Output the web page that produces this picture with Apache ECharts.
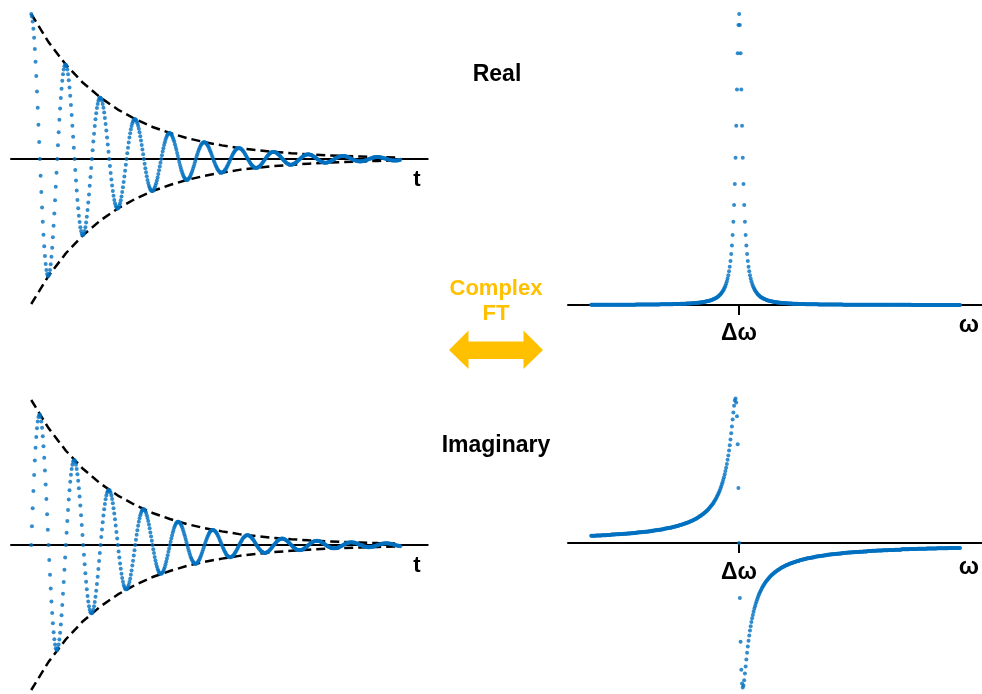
<!DOCTYPE html>
<html>
<head>
<meta charset="utf-8">
<script src="https://cdn.jsdelivr.net/npm/echarts@6/dist/echarts.min.js"></script>
<style>
html, body { margin: 0; padding: 0; background: #ffffff; }
#chart { width: 982px; height: 694px; }
</style>
</head>
<body>
<div id="chart"></div>
<script>
// Free-induction decay, 512 samples, one line per oscillation period (48 samples)
const REAL_FID = [
  100,98.3,94.9,89.9,83.6,75.9,67.0,57.2,46.5,35.3,23.7,11.8,0,-11.6,-22.8,-33.5,-43.3,-52.3,-60.2,-66.9,-72.4,-76.5,-79.3,-80.7,-80.6,-79.2,-76.5,-72.5,-67.4,-61.2,-54.0,-46.1,-37.5,-28.5,-19.1,-9.5,0,9.4,18.4,27.0,34.9,42.1,48.5,53.9,58.4,61.7,63.9,65.0,
  65.0,63.9,61.7,58.5,54.3,49.3,43.6,37.2,30.3,22.9,15.4,7.7,0,-7.6,-14.8,-21.7,-28.2,-34.0,-39.1,-43.5,-47.0,-49.7,-51.5,-52.4,-52.4,-51.5,-49.7,-47.1,-43.8,-39.8,-35.1,-30.0,-24.4,-18.5,-12.4,-6.2,0,6.1,12.0,17.5,22.7,27.4,31.5,35.1,37.9,40.1,41.5,42.3,
  42.3,41.5,40.1,38.0,35.3,32.0,28.3,24.2,19.7,14.9,10.0,5.0,0,-4.9,-9.6,-14.1,-18.3,-22.1,-25.4,-28.3,-30.6,-32.3,-33.5,-34.1,-34.1,-33.5,-32.3,-30.6,-28.5,-25.8,-22.8,-19.5,-15.9,-12.0,-8.1,-4.0,0,4.0,7.8,11.4,14.8,17.8,20.5,22.8,24.7,26.1,27.0,27.5,
  27.5,27.0,26.1,24.7,22.9,20.8,18.4,15.7,12.8,9.7,6.5,3.2,0,-3.2,-6.3,-9.2,-11.9,-14.4,-16.5,-18.4,-19.9,-21.0,-21.8,-22.1,-22.1,-21.8,-21.0,-19.9,-18.5,-16.8,-14.8,-12.7,-10.3,-7.8,-5.2,-2.6,0,2.6,5.1,7.4,9.6,11.6,13.3,14.8,16.0,16.9,17.6,17.9,
  17.9,17.5,16.9,16.1,14.9,13.5,12.0,10.2,8.3,6.3,4.2,2.1,0,-2.1,-4.1,-6.0,-7.7,-9.3,-10.7,-11.9,-12.9,-13.7,-14.2,-14.4,-14.4,-14.1,-13.7,-12.9,-12.0,-10.9,-9.6,-8.2,-6.7,-5.1,-3.4,-1.7,0,1.7,3.3,4.8,6.2,7.5,8.7,9.6,10.4,11.0,11.4,11.6,
  11.6,11.4,11.0,10.4,9.7,8.8,7.8,6.6,5.4,4.1,2.7,1.4,0,-1.3,-2.6,-3.9,-5.0,-6.1,-7.0,-7.8,-8.4,-8.9,-9.2,-9.4,-9.4,-9.2,-8.9,-8.4,-7.8,-7.1,-6.3,-5.3,-4.4,-3.3,-2.2,-1.1,0,1.1,2.1,3.1,4.1,4.9,5.6,6.3,6.8,7.2,7.4,7.5,
  7.5,7.4,7.2,6.8,6.3,5.7,5.1,4.3,3.5,2.7,1.8,0.9,0,-0.9,-1.7,-2.5,-3.3,-3.9,-4.5,-5.0,-5.5,-5.8,-6.0,-6.1,-6.1,-6.0,-5.8,-5.5,-5.1,-4.6,-4.1,-3.5,-2.8,-2.1,-1.4,-0.7,0,0.7,1.4,2.0,2.6,3.2,3.7,4.1,4.4,4.7,4.8,4.9,
  4.9,4.8,4.7,4.4,4.1,3.7,3.3,2.8,2.3,1.7,1.2,0.6,0,-0.6,-1.1,-1.6,-2.1,-2.6,-2.9,-3.3,-3.5,-3.8,-3.9,-4.0,-4.0,-3.9,-3.7,-3.6,-3.3,-3.0,-2.6,-2.3,-1.8,-1.4,-0.9,-0.5,0,0.5,0.9,1.3,1.7,2.1,2.4,2.6,2.9,3.0,3.1,3.2,
  3.2,3.1,3.0,2.9,2.7,2.4,2.1,1.8,1.5,1.1,0.8,0.4,0,-0.4,-0.7,-1.1,-1.4,-1.7,-1.9,-2.1,-2.3,-2.4,-2.5,-2.6,-2.6,-2.5,-2.4,-2.3,-2.1,-1.9,-1.7,-1.5,-1.2,-0.9,-0.6,-0.3,0,0.3,0.6,0.9,1.1,1.3,1.5,1.7,1.9,2.0,2.0,2.1,
  2.1,2.0,2.0,1.9,1.7,1.6,1.4,1.2,1.0,0.7,0.5,0.2,0,-0.2,-0.5,-0.7,-0.9,-1.1,-1.2,-1.4,-1.5,-1.6,-1.6,-1.7,-1.7,-1.6,-1.6,-1.5,-1.4,-1.3,-1.1,-1.0,-0.8,-0.6,-0.4,-0.2,0,0.2,0.4,0.6,0.7,0.9,1.0,1.1,1.2,1.3,1.3,1.3,
  1.3,1.3,1.3,1.2,1.1,1.0,0.9,0.8,0.6,0.5,0.3,0.2,0,-0.2,-0.3,-0.5,-0.6,-0.7,-0.8,-0.9,-1.0,-1.0,-1.1,-1.1,-1.1,-1.1,-1.0,-1.0,-0.9,-0.8,-0.7,-0.6
];

const IMAG_FID = [
  0,12.9,25.4,37.3,48.2,58.2,67.0,74.5,80.6,85.2,88.3,89.8,89.8,88.2,85.2,80.8,75.0,68.1,60.2,51.3,41.8,31.7,21.2,10.6,0,-10.4,-20.5,-30.0,-38.9,-46.9,-54.0,-60.1,-65.0,-68.7,-71.2,-72.4,-72.4,-71.1,-68.7,-65.1,-60.5,-54.9,-48.5,-41.4,-33.7,-25.6,-17.1,-8.6,
  0,8.4,16.5,24.2,31.4,37.8,43.6,48.4,52.4,55.4,57.4,58.4,58.4,57.3,55.4,52.5,48.8,44.3,39.1,33.4,27.2,20.6,13.8,6.9,0,-6.8,-13.3,-19.5,-25.3,-30.5,-35.1,-39.0,-42.2,-44.7,-46.3,-47.1,-47.1,-46.2,-44.6,-42.3,-39.3,-35.7,-31.5,-26.9,-21.9,-16.6,-11.1,-5.6,
  0,5.5,10.7,15.7,20.4,24.6,28.3,31.5,34.1,36.0,37.3,37.9,37.9,37.3,36.0,34.1,31.7,28.8,25.4,21.7,17.7,13.4,9.0,4.5,0,-4.4,-8.7,-12.7,-16.4,-19.8,-22.8,-25.4,-27.5,-29.0,-30.1,-30.6,-30.6,-30.1,-29.0,-27.5,-25.6,-23.2,-20.5,-17.5,-14.2,-10.8,-7.2,-3.6,
  0,3.6,7.0,10.2,13.2,16.0,18.4,20.5,22.1,23.4,24.2,24.7,24.7,24.2,23.4,22.2,20.6,18.7,16.5,14.1,11.5,8.7,5.8,2.9,0,-2.9,-5.6,-8.2,-10.7,-12.9,-14.8,-16.5,-17.8,-18.9,-19.6,-19.9,-19.9,-19.5,-18.9,-17.9,-16.6,-15.1,-13.3,-11.4,-9.3,-7.0,-4.7,-2.4,
  0,2.3,4.5,6.6,8.6,10.4,12.0,13.3,14.4,15.2,15.8,16.0,16.0,15.7,15.2,14.4,13.4,12.2,10.7,9.2,7.5,5.7,3.8,1.9,0,-1.9,-3.7,-5.4,-6.9,-8.4,-9.6,-10.7,-11.6,-12.3,-12.7,-12.9,-12.9,-12.7,-12.3,-11.6,-10.8,-9.8,-8.7,-7.4,-6.0,-4.6,-3.1,-1.5,
  0,1.5,2.9,4.3,5.6,6.8,7.8,8.6,9.4,9.9,10.2,10.4,10.4,10.2,9.9,9.4,8.7,7.9,7.0,6.0,4.8,3.7,2.5,1.2,0,-1.2,-2.4,-3.5,-4.5,-5.4,-6.3,-7.0,-7.5,-8.0,-8.3,-8.4,-8.4,-8.3,-8.0,-7.6,-7.0,-6.4,-5.6,-4.8,-3.9,-3.0,-2.0,-1.0,
  0,1.0,1.9,2.8,3.6,4.4,5.1,5.6,6.1,6.4,6.7,6.8,6.8,6.7,6.4,6.1,5.7,5.1,4.5,3.9,3.2,2.4,1.6,0.8,0,-0.8,-1.5,-2.3,-2.9,-3.5,-4.1,-4.5,-4.9,-5.2,-5.4,-5.5,-5.5,-5.4,-5.2,-4.9,-4.6,-4.1,-3.7,-3.1,-2.5,-1.9,-1.3,-0.6,
  0,0.6,1.2,1.8,2.4,2.9,3.3,3.7,4.0,4.2,4.3,4.4,4.4,4.3,4.2,4.0,3.7,3.3,2.9,2.5,2.0,1.6,1.0,0.5,0,-0.5,-1.0,-1.5,-1.9,-2.3,-2.6,-2.9,-3.2,-3.4,-3.5,-3.6,-3.5,-3.5,-3.4,-3.2,-3.0,-2.7,-2.4,-2.0,-1.7,-1.3,-0.8,-0.4,
  0,0.4,0.8,1.2,1.5,1.9,2.1,2.4,2.6,2.7,2.8,2.9,2.9,2.8,2.7,2.6,2.4,2.2,1.9,1.6,1.3,1.0,0.7,0.3,0,-0.3,-0.7,-1.0,-1.2,-1.5,-1.7,-1.9,-2.1,-2.2,-2.3,-2.3,-2.3,-2.3,-2.2,-2.1,-1.9,-1.7,-1.5,-1.3,-1.1,-0.8,-0.5,-0.3,
  0,0.3,0.5,0.8,1.0,1.2,1.4,1.5,1.7,1.8,1.8,1.9,1.9,1.8,1.8,1.7,1.6,1.4,1.2,1.1,0.9,0.7,0.4,0.2,0,-0.2,-0.4,-0.6,-0.8,-1.0,-1.1,-1.2,-1.3,-1.4,-1.5,-1.5,-1.5,-1.5,-1.4,-1.3,-1.3,-1.1,-1.0,-0.9,-0.7,-0.5,-0.4,-0.2,
  0,0.2,0.3,0.5,0.6,0.8,0.9,1.0,1.1,1.1,1.2,1.2,1.2,1.2,1.1,1.1,1.0,0.9,0.8,0.7,0.6,0.4,0.3,0.1,0,-0.1,-0.3,-0.4,-0.5,-0.6,-0.7,-0.8
];

// Decay envelope, sampled every 24 points of the FID
const ENVELOPE_INDEX = [0,24,48,72,96,120,144,168,192,216,240,264,288,312,336,360,384,408,432,456,480,504,511];
const ENVELOPE_UPPER = [100,80.6,65.0,52.4,42.3,34.1,27.5,22.1,17.9,14.4,11.6,9.4,7.5,6.1,4.9,4.0,3.2,2.6,2.1,1.7,1.3,1.1,1.0];
const ENVELOPE_LOWER = [-100,-80.6,-65.0,-52.4,-42.3,-34.1,-27.5,-22.1,-17.9,-14.4,-11.6,-9.4,-7.5,-6.1,-4.9,-4.0,-3.2,-2.6,-2.1,-1.7,-1.3,-1.1,-1.0];

// Spectrum, 512 points; the resonance sits at point 205
const RESONANCE_INDEX = 205;

const ABSORPTION = [
  0.06,0.06,0.06,0.06,0.06,0.06,0.06,
  0.07,0.07,0.07,0.07,0.07,0.07,0.07,0.07,0.07,0.07,0.07,0.07,0.07,0.07,
  0.08,0.08,0.08,0.08,0.08,0.08,0.08,0.08,0.08,0.08,0.08,
  0.09,0.09,0.09,0.09,0.09,0.09,0.09,0.09,0.09,
  0.1,0.1,0.1,0.1,0.1,0.1,0.1,0.1,
  0.11,0.11,0.11,0.11,0.11,0.11,0.11,
  0.12,0.12,0.12,0.12,0.12,0.12,
  0.13,0.13,0.13,0.13,0.13,0.13,
  0.14,0.14,0.14,0.14,0.14,
  0.15,0.15,0.15,0.15,
  0.16,0.16,0.16,0.16,
  0.17,0.17,0.17,0.17,
  0.18,0.18,0.18,
  0.19,0.19,0.19,
  0.2,0.2,0.2,
  0.21,0.21,
  0.22,0.22,0.22,
  0.23,0.23,
  0.24,0.24,
  0.25,0.25,
  0.26,0.26,0.27,0.27,0.28,0.28,0.29,0.3,0.3,0.31,
  0.32,0.32,0.33,0.34,0.35,0.35,0.36,0.37,0.38,0.39,
  0.4,0.41,0.42,0.43,0.44,0.45,0.47,0.48,0.49,0.51,
  0.52,0.54,0.55,0.57,0.59,0.6,0.62,0.64,0.66,0.68,
  0.71,0.73,0.76,0.78,0.81,0.84,0.87,0.9,0.94,0.98,
  1.02,1.06,1.1,1.15,1.2,1.25,1.31,1.37,1.43,1.5,
  1.58,1.66,1.75,1.84,1.94,2.05,2.17,2.3,2.44,2.6,
  2.77,2.96,3.17,3.4,3.65,3.94,4.26,4.62,5.03,5.5,
  6.02,6.63,7.33,8.15,9.1,10.23,11.57,13.17,15.11,17.49,
  20.41,24.04,28.6,34.35,41.6,50.63,61.58,74.02,86.51,96.25,
  100,
  96.25,86.51,74.02,61.58,50.63,41.6,34.35,28.6,24.04,20.41,
  17.49,15.11,13.17,11.57,10.23,9.1,8.15,7.33,6.63,6.02,
  5.5,5.03,4.62,4.26,3.94,3.65,3.4,3.17,2.96,2.77,
  2.6,2.44,2.3,2.17,2.05,1.94,1.84,1.75,1.66,1.58,
  1.5,1.43,1.37,1.31,1.25,1.2,1.15,1.1,1.06,1.02,
  0.98,0.94,0.9,0.87,0.84,0.81,0.78,0.76,0.73,0.71,
  0.68,0.66,0.64,0.62,0.6,0.59,0.57,0.55,0.54,0.52,
  0.51,0.49,0.48,0.47,0.45,0.44,0.43,0.42,0.41,0.4,
  0.39,0.38,0.37,0.36,0.35,0.35,0.34,0.33,0.32,0.32,
  0.31,0.3,0.3,0.29,0.28,0.28,0.27,0.27,0.26,0.26,
  0.25,0.25,
  0.24,0.24,
  0.23,0.23,
  0.22,0.22,0.22,
  0.21,0.21,
  0.2,0.2,0.2,
  0.19,0.19,0.19,
  0.18,0.18,0.18,
  0.17,0.17,0.17,0.17,
  0.16,0.16,0.16,0.16,
  0.15,0.15,0.15,0.15,
  0.14,0.14,0.14,0.14,0.14,
  0.13,0.13,0.13,0.13,0.13,0.13,
  0.12,0.12,0.12,0.12,0.12,0.12,
  0.11,0.11,0.11,0.11,0.11,0.11,0.11,
  0.1,0.1,0.1,0.1,0.1,0.1,0.1,0.1,
  0.09,0.09,0.09,0.09,0.09,0.09,0.09,0.09,0.09,
  0.08,0.08,0.08,0.08,0.08,0.08,0.08,0.08,0.08,0.08,0.08,
  0.07,0.07,0.07,0.07,0.07,0.07,0.07,0.07,0.07,0.07,0.07,0.07,0.07,0.07,
  0.06,0.06,0.06,0.06,0.06,0.06,0.06,0.06,0.06,0.06,0.06,0.06,0.06,0.06,0.06,0.06,0.06,
  0.05,0.05,0.05,0.05,0.05,0.05,0.05,0.05,0.05,0.05,0.05,0.05,0.05,0.05,0.05,0.05,0.05,0.05,0.05,0.05,0.05,0.05,0.05,
  0.04,0.04,0.04,0.04,0.04,0.04,0.04,0.04,0.04,0.04,0.04,0.04,0.04,0.04,0.04,0.04,
  0.04,0.04,0.04,0.04,0.04,0.04,0.04,0.04,0.04,0.04,0.04,0.04,0.04,0.04,0.04,0.04,
  0.03,0.03,0.03,0.03,0.03,0.03,0.03,0.03,0.03,0.03,0.03,0.03,0.03,0.03,0.03,0.03,0.03,0.03,
  0.03,0.03,0.03,0.03,0.03,0.03,0.03,0.03,0.03,0.03,0.03,0.03,0.03,0.03,0.03,0.03,0.03,0.03
];

const DISPERSION = [
  2.5,2.5,2.5,2.5,2.5,2.5,2.5,
  2.6,2.6,2.6,2.6,2.6,2.6,2.6,2.6,
  2.7,2.7,2.7,2.7,2.7,2.7,2.7,
  2.8,2.8,2.8,2.8,2.8,2.8,
  2.9,2.9,2.9,2.9,2.9,2.9,
  3.0,3.0,3.0,3.0,3.0,3.0,
  3.1,3.1,3.1,3.1,3.1,
  3.2,3.2,3.2,3.2,3.2,
  3.3,3.3,3.3,3.3,3.3,
  3.4,3.4,3.4,3.4,
  3.5,3.5,3.5,3.5,
  3.6,3.6,3.6,3.6,
  3.7,3.7,3.7,3.7,
  3.8,3.8,3.8,
  3.9,3.9,3.9,3.9,
  4.0,4.0,4.0,
  4.1,4.1,4.1,
  4.2,4.2,4.2,
  4.3,4.3,
  4.4,4.4,4.4,
  4.5,4.5,
  4.6,4.6,4.6,
  4.7,4.7,
  4.8,4.8,
  4.9,4.9,
  5.0,5.0,
  5.1,5.1,
  5.2,5.2,
  5.3,5.3,
  5.4,5.4,
  5.5,5.5,
  5.6,
  5.7,5.7,
  5.8,
  5.9,5.9,
  6.0,
  6.1,
  6.2,6.2,
  6.3,6.38,6.46,6.55,6.63,6.72,6.81,6.9,7,7.1,
  7.2,7.3,7.41,7.51,7.63,7.74,7.86,7.99,8.11,8.24,
  8.38,8.52,8.66,8.81,8.97,9.13,9.3,9.47,9.65,9.83,
  10.02,10.22,10.43,10.65,10.88,11.11,11.36,11.61,11.88,12.16,
  12.46,12.77,13.09,13.44,13.79,14.17,14.57,14.99,15.44,15.91,
  16.41,16.95,17.51,18.12,18.76,19.46,20.2,21,21.86,22.79,
  23.79,24.88,26.07,27.36,28.77,30.3,31.99,33.81,35.81,37.99,
  40.31,42.73,45.18,47.48,49.29,49.99,48.64,43.85,34.17,19.01,
  0,
  -19.01,-34.17,-43.85,-48.64,-49.99,-49.29,-47.48,-45.18,-42.73,-40.31,
  -37.99,-35.81,-33.81,-31.99,-30.3,-28.77,-27.36,-26.07,-24.88,-23.79,
  -22.79,-21.86,-21,-20.2,-19.46,-18.76,-18.12,-17.51,-16.95,-16.41,
  -15.91,-15.44,-14.99,-14.57,-14.17,-13.79,-13.44,-13.09,-12.77,-12.46,
  -12.16,-11.88,-11.61,-11.36,-11.11,-10.88,-10.65,-10.43,-10.22,-10.02,
  -9.83,-9.65,-9.47,-9.3,-9.13,-8.97,-8.81,-8.66,-8.52,-8.38,
  -8.24,-8.11,-7.99,-7.86,-7.74,-7.63,-7.51,-7.41,-7.3,-7.2,
  -7.1,-7,-6.9,-6.81,-6.72,-6.63,-6.55,-6.46,-6.38,-6.3,
  -6.2,-6.2,
  -6.1,
  -6.0,
  -5.9,-5.9,
  -5.8,
  -5.7,-5.7,
  -5.6,
  -5.5,-5.5,
  -5.4,-5.4,
  -5.3,-5.3,
  -5.2,-5.2,
  -5.1,-5.1,
  -5.0,-5.0,
  -4.9,-4.9,
  -4.8,-4.8,
  -4.7,-4.7,
  -4.6,-4.6,-4.6,
  -4.5,-4.5,
  -4.4,-4.4,-4.4,
  -4.3,-4.3,
  -4.2,-4.2,-4.2,
  -4.1,-4.1,-4.1,
  -4.0,-4.0,-4.0,
  -3.9,-3.9,-3.9,-3.9,
  -3.8,-3.8,-3.8,
  -3.7,-3.7,-3.7,-3.7,
  -3.6,-3.6,-3.6,-3.6,
  -3.5,-3.5,-3.5,-3.5,
  -3.4,-3.4,-3.4,-3.4,
  -3.3,-3.3,-3.3,-3.3,-3.3,
  -3.2,-3.2,-3.2,-3.2,-3.2,
  -3.1,-3.1,-3.1,-3.1,-3.1,
  -3.0,-3.0,-3.0,-3.0,-3.0,-3.0,
  -2.9,-2.9,-2.9,-2.9,-2.9,-2.9,
  -2.8,-2.8,-2.8,-2.8,-2.8,-2.8,
  -2.7,-2.7,-2.7,-2.7,-2.7,-2.7,-2.7,
  -2.6,-2.6,-2.6,-2.6,-2.6,-2.6,-2.6,-2.6,
  -2.5,-2.5,-2.5,-2.5,-2.5,-2.5,-2.5,-2.5,
  -2.4,-2.4,-2.4,-2.4,-2.4,-2.4,-2.4,-2.4,-2.4,
  -2.3,-2.3,-2.3,-2.3,-2.3,-2.3,-2.3,-2.3,-2.3,
  -2.2,-2.2,-2.2,-2.2,-2.2,-2.2,-2.2,-2.2,-2.2,-2.2,-2.2,
  -2.1,-2.1,-2.1,-2.1,-2.1,-2.1,-2.1,-2.1,-2.1,-2.1,-2.1,
  -2.0,-2.0,-2.0,-2.0,-2.0,-2.0,-2.0,-2.0,-2.0,-2.0,-2.0,-2.0,-2.0,
  -1.9,-1.9,-1.9,-1.9,-1.9,-1.9,-1.9,-1.9,-1.9,-1.9,-1.9,-1.9,-1.9,-1.9,
  -1.8,-1.8,-1.8,-1.8,-1.8,-1.8,-1.8,-1.8,-1.8,-1.8,-1.8,-1.8,-1.8,-1.8,-1.8,-1.8,
  -1.7,-1.7,-1.7,-1.7,-1.7,-1.7,-1.7,-1.7,-1.7,-1.7,-1.7,-1.7,-1.7,-1.7,-1.7,-1.7,-1.7
];

const BLUE = '#0070C0';
const GOLD = '#FFC000';
const FONT = '"Liberation Sans", Arial, Helvetica, sans-serif';

const indexed = (values) => values.map((v, i) => [i, v]);
const paired = (xs, ys) => xs.map((x, i) => [x, ys[i]]);

const axisLine = { show: true, onZero: true, lineStyle: { color: '#000000', width: 2 } };

function timeAxis(gridIndex) {
  return {
    type: 'value', gridIndex, min: -28, max: 549,
    axisLine, axisTick: { show: false }, axisLabel: { show: false }, splitLine: { show: false }
  };
}

// Frequency axis: a single tick marks the resonance offset
function freqAxis(gridIndex) {
  return {
    type: 'value', gridIndex, min: -32, max: 542,
    axisLine,
    axisTick: { show: true, customValues: [RESONANCE_INDEX], length: 10, lineStyle: { color: '#000000', width: 2 } },
    axisLabel: { show: false },
    splitLine: { show: false }
  };
}

function hiddenY(gridIndex, min, max) {
  return { type: 'value', gridIndex, min, max, show: false, splitLine: { show: false } };
}

function dots(axisIndex, values) {
  return {
    type: 'scatter', xAxisIndex: axisIndex, yAxisIndex: axisIndex,
    data: indexed(values), symbol: 'circle', symbolSize: 4,
    itemStyle: { color: BLUE }, silent: true, z: 4
  };
}

function envelope(axisIndex, values) {
  return {
    type: 'line', xAxisIndex: axisIndex, yAxisIndex: axisIndex,
    data: paired(ENVELOPE_INDEX, values), smooth: false,
    symbol: 'none', showSymbol: false, silent: true, z: 3,
    lineStyle: { color: '#000000', width: 2.5, type: [9, 5] }
  };
}

function label(text, x, y, size, color) {
  return {
    type: 'text', x, y, silent: true,
    style: {
      text, fill: color || '#000000', font: 'bold ' + size + 'px ' + FONT,
      textAlign: 'center', textVerticalAlign: 'middle', align: 'center', verticalAlign: 'middle'
    }
  };
}

const chart = echarts.init(document.getElementById('chart'), null, { renderer: 'canvas', width: 982, height: 694 });

chart.setOption({
  animation: false,
  backgroundColor: '#ffffff',
  grid: [
    { left: 11, top: 8.2, width: 416.7, height: 301.6, containLabel: false, outerBoundsMode: 'none' },
    { left: 11, top: 394.2, width: 416.7, height: 298.7, containLabel: false, outerBoundsMode: 'none' },
    { left: 568, top: 11.09, width: 414.5, height: 302.64, containLabel: false, outerBoundsMode: 'none' },
    { left: 568, top: 392.72, width: 414.5, height: 300.56, containLabel: false, outerBoundsMode: 'none' }
  ],
  xAxis: [timeAxis(0), timeAxis(1), freqAxis(2), freqAxis(3)],
  yAxis: [hiddenY(0, -104, 104), hiddenY(1, -102, 104), hiddenY(2, -3, 101), hiddenY(3, -52, 52)],
  series: [
    envelope(0, ENVELOPE_UPPER),
    envelope(0, ENVELOPE_LOWER),
    dots(0, REAL_FID),
    envelope(1, ENVELOPE_UPPER),
    envelope(1, ENVELOPE_LOWER),
    dots(1, IMAG_FID),
    dots(2, ABSORPTION),
    dots(3, DISPERSION)
  ],
  graphic: [
    label('Real', 497, 75, 23),
    label('Imaginary', 496, 446, 23),
    label('Complex', 496, 289, 22, GOLD),
    label('FT', 496, 314, 22, GOLD),
    {
      type: 'polygon', silent: true,
      shape: { points: [[449, 350], [468.5, 330.5], [468.5, 341.5], [523.5, 341.5], [523.5, 330.5], [543, 350], [523.5, 369], [523.5, 359], [468.5, 359], [468.5, 369]] },
      style: { fill: GOLD }
    },
    label('t', 417, 180, 22),
    label('t', 417, 566, 22),
    label('Δω', 739, 334, 23),
    label('Δω', 739, 573, 23),
    label('ω', 969, 325, 24),
    label('ω', 969, 567, 24)
  ]
});
</script>
</body>
</html>
